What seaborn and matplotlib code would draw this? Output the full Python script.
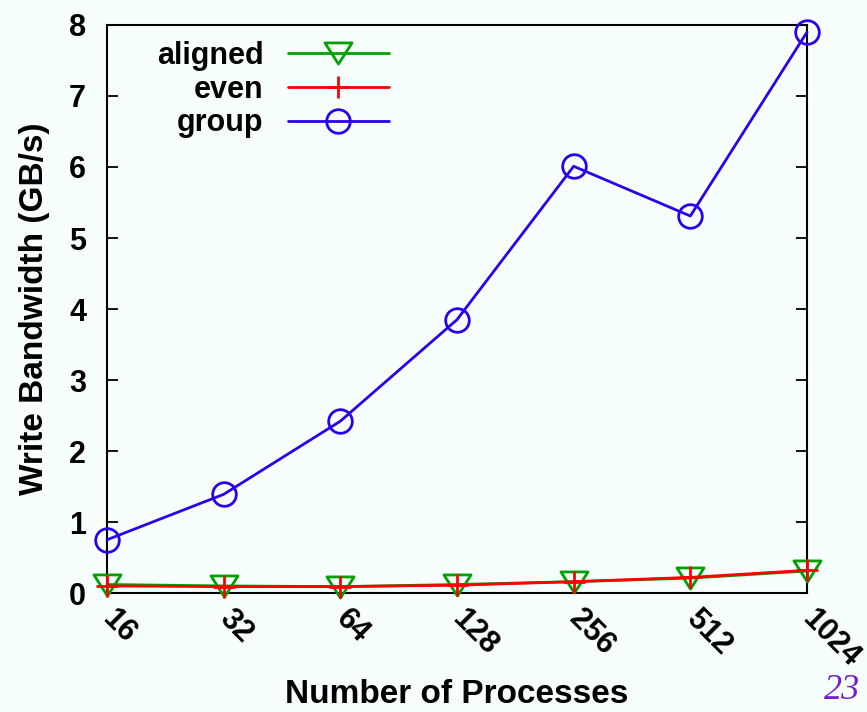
import matplotlib
matplotlib.use("Agg")
import matplotlib.pyplot as plt
from matplotlib.path import Path
import seaborn as sns
import pandas as pd

processes = ["16", "32", "64", "128", "256", "512", "1024"]
aligned = [0.12, 0.10, 0.09, 0.12, 0.16, 0.21, 0.31]
even = [0.10, 0.09, 0.09, 0.11, 0.16, 0.22, 0.32]
group = [0.75, 1.39, 2.42, 3.85, 6.01, 5.31, 7.90]
y_ticks = [0, 1, 2, 3, 4, 5, 6, 7, 8]

bg = "#f7fffe"
sns.set_theme(style="white")
plt.rcParams["font.family"] = ["Liberation Sans", "DejaVu Sans"]
plt.rcParams["font.weight"] = "bold"
for key in ("text.color", "axes.labelcolor", "xtick.color", "ytick.color"):
    plt.rcParams[key] = "black"

fig = plt.figure(figsize=(8.67, 7.12), dpi=100, facecolor=bg)
ax = fig.add_axes([0.1234, 0.1671, 0.8074, 0.7978])
ax.set_facecolor(bg)

pos = list(range(len(processes)))
df = pd.DataFrame({"pos": pos, "aligned": aligned, "even": even, "group": group})

# wide, open down-pointing triangle
tri_down = Path([(-1.0, 0.78), (1.0, 0.78), (0.0, -0.78), (-1.0, 0.78)], closed=True)

styles = [
    ("aligned", "#00a000", tri_down, 19.5),
    ("even", "#ff0000", "+", 16),
    ("group", "#2a00ee", "o", 17),
]
for name, color, marker, ms in styles:
    sns.lineplot(data=df, x="pos", y=name, ax=ax, color=color, marker=marker,
                 markersize=ms, markerfacecolor="none", markeredgecolor=color,
                 markeredgewidth=2.0, linewidth=2.0, label=name, clip_on=False,
                 zorder=3)

ax.set_xlim(0, 6)
ax.set_ylim(0, 8)
ax.set_yticks(y_ticks)
ax.set_yticklabels([str(t) for t in y_ticks], fontsize=22, fontweight="bold")
ax.set_xticks(pos)
ax.set_xticklabels(processes, fontsize=22, fontweight="bold", rotation=-45,
                   ha="left", va="center", rotation_mode="anchor")
ax.tick_params(axis="y", direction="in", length=8, width=1.3, right=True,
               left=True, pad=15)
ax.tick_params(axis="x", direction="in", length=0, pad=15)
for s in ax.spines.values():
    s.set_visible(True)
    s.set_color("black")
    s.set_linewidth(1.5)

ax.set_xlabel("Number of Processes", fontsize=24, fontweight="bold")
ax.xaxis.set_label_coords(0.5, -0.1937)
ax.xaxis.label.set_va("baseline")
ax.set_ylabel("Write Bandwidth (GB/s)", fontsize=24, fontweight="bold", labelpad=14)

leg = ax.legend(loc="upper left", bbox_to_anchor=(0.045, 1.004), frameon=False,
                markerfirst=False, fontsize=22, handlelength=3.3,
                handletextpad=0.8, labelspacing=0.12, borderaxespad=0.2)
for t in leg.get_texts():
    t.set_fontweight("bold")

fig.text(0.992, 0.007, "23", fontsize=26, style="italic", family="Liberation Serif",
         color="#7020d0", ha="right", va="bottom", fontweight="normal")

fig.savefig("out.png", dpi=100, facecolor=bg)
